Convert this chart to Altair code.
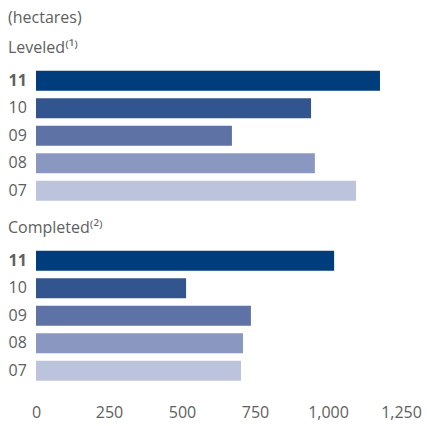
import altair as alt
import pandas as pd

years = ["11", "10", "09", "08", "07"]
leveled = [1178, 942, 671, 955, 1096]
completed = [1021, 514, 736, 709, 702]
colors = ["#003d7c", "#33558f", "#5e72a5", "#8a97c0", "#bcc4dd"]
ticks = [0, 250, 500, 750, 1000, 1250]

FONT = "Open Sans"
GRAY = "#606060"
FS = 16

df_l = pd.DataFrame({"year": years, "value": leveled})
df_c = pd.DataFrame({"year": years, "value": completed})

xscale = alt.Scale(domain=[0, 1250], nice=False)
yscale = alt.Scale(paddingInner=0.273, paddingOuter=0.1365)
cscale = alt.Scale(domain=years, range=colors)

yaxis = alt.Axis(
    title=None, ticks=False, domain=False, labelAlign="left", labelPadding=28,
    labelFontSize=FS, labelFont=FONT, labelColor=GRAY,
    labelFontWeight={"condition": {"test": "datum.value == '11'", "value": "bold"}, "value": "normal"},
)


def panel(df, title, show_x):
    xaxis = alt.Axis(
        title=None, values=ticks, format=",.0f", grid=False, domain=False, ticks=False,
        labelFontSize=FS, labelFont=FONT, labelColor=GRAY, labelPadding=20,
        labelFlush=False, labelOverlap=False,
    ) if show_x else None
    return alt.Chart(df, title=alt.TitleParams(
        title, anchor="start", fontSize=FS, font=FONT, color=GRAY, fontWeight="normal", offset=11,
    )).mark_bar().encode(
        x=alt.X("value:Q", scale=xscale, axis=xaxis),
        y=alt.Y("year:N", sort=years, scale=yscale, axis=yaxis),
        color=alt.Color("year:N", scale=cscale, legend=None),
    ).properties(width=365, height=137.5)


chart = alt.vconcat(
    panel(df_l, "Leveled⁽¹⁾", False),
    panel(df_c, "Completed⁽²⁾", True),
    spacing=15,
).properties(
    title=alt.TitleParams("(hectares)", anchor="start", fontSize=FS, font=FONT, color=GRAY,
                          fontWeight="normal", offset=14),
    padding={"left": 8, "top": 10, "right": 4, "bottom": 4},
).configure_view(stroke=None)

chart.save("out.html", embed_options={"renderer": "svg", "actions": False})
